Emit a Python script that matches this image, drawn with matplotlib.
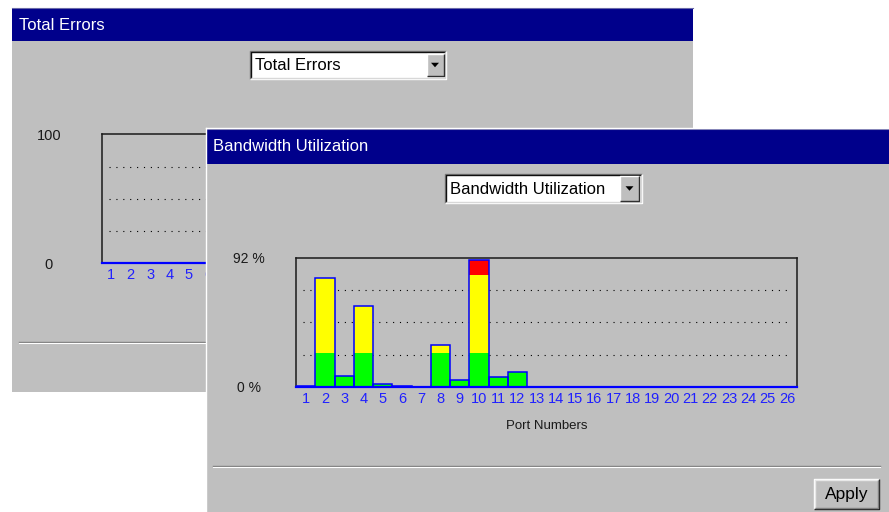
"""Recreate the two stacked port-statistics windows (Total Errors / Bandwidth Utilization)."""

import numpy as np
import matplotlib
matplotlib.use("Agg")
import matplotlib.pyplot as plt
from matplotlib.patches import Rectangle, Polygon

plt.rcParams['font.family'] = ['Liberation Sans', 'DejaVu Sans']

W, H = 889, 512

GRAY = '#bfbfbf'
NAVY = '#00008b'
BLUE = '#0000ff'
TICK_BLUE = '#2020ff'
GREEN = '#00ff00'
YELLOW = '#ffff00'
RED = '#ff0000'

# data
ports = list(range(1, 27))
port_labels = [str(p) for p in ports]
total_errors = [0, 0, 0, 0, 0, 0, 0, 0, 0, 0, 0, 0, 0,
                0, 0, 0, 0, 0, 0, 0, 0, 0, 0, 0, 0, 0]
bandwidth = [0.7, 77.5, 7.8, 57.3, 2.1, 0.7, 0.0, 29.7, 5.0, 90.1, 6.9, 10.5, 0.0,
             0.0, 0.0, 0.0, 0.0, 0.0, 0.0, 0.0, 0.0, 0.0, 0.0, 0.0, 0.0, 0.0]
errors_max = 100
bandwidth_max = 92
green_limit = 24.5
yellow_limit = 80.0


def to_fig(x0, y0, x1, y1):
    """Convert a pixel box (top-left origin) to figure-fraction axes rect."""
    return [x0 / W, 1 - y1 / H, (x1 - x0) / W, (y1 - y0) / H]


def bevel(ax, x0, y0, x1, y1, light, dark, lw=1.0):
    ax.plot([x0, x0, x1], [y1, y0, y0], color=light, lw=lw, solid_capstyle='butt')
    ax.plot([x0, x1, x1], [y1, y1, y0], color=dark, lw=lw, solid_capstyle='butt')


def draw_window(ax, x0, y0, x1, y1, title, title_h):
    ax.add_patch(Rectangle((x0, y0), x1 - x0, y1 - y0, fc=GRAY, ec='none'))
    ax.add_patch(Rectangle((x0, y0), x1 - x0, title_h, fc=NAVY, ec='none'))
    ax.plot([x0, x1], [y0 + 0.5, y0 + 0.5], color='#6a6aa8', lw=0.8)
    ax.text(x0 + 7, y0 + title_h / 2 + 1, title, color='white', fontsize=12, va='center')


def draw_dropdown(ax, x0, y0, x1, y1, text, btn_w):
    ax.add_patch(Rectangle((x0, y0), x1 - x0, y1 - y0, fc='white', ec='none'))
    bevel(ax, x0, y0, x1, y1, '#7a7a7a', 'white', lw=1.0)
    bevel(ax, x0 + 1, y0 + 1, x1 - 1, y1 - 1, '#101010', '#d8d8d8', lw=1.0)
    bx0, bx1 = x1 - btn_w - 2.5, x1 - 2.5
    by0, by1 = y0 + 2.5, y1 - 2.5
    ax.add_patch(Rectangle((bx0, by0), bx1 - bx0, by1 - by0, fc=GRAY, ec='none'))
    bevel(ax, bx0, by0, bx1, by1, 'white', '#303030', lw=1.0)
    cx, cy = (bx0 + bx1) / 2, (by0 + by1) / 2
    ax.add_patch(Polygon([(cx - 4, cy - 2), (cx + 4, cy - 2), (cx, cy + 2.5)],
                         closed=True, fc='black', ec='none'))
    ax.text(x0 + 5, (y0 + y1) / 2 + 1, text, fontsize=12, va='center', color='black')


def groove(ax, x0, x1, y):
    ax.plot([x0, x1], [y, y], color='#808080', lw=1.0)
    ax.plot([x0, x1], [y + 1, y + 1], color='white', lw=0.8)


def style_chart(ax, ymax, ylabels):
    ax.set_facecolor('none')
    ax.set_xlim(0.5, len(ports) + 0.5)
    ax.set_ylim(0, ymax)
    for side in ('top', 'left', 'right'):
        ax.spines[side].set_color('#1a1a1a')
        ax.spines[side].set_linewidth(1.1)
    ax.spines['bottom'].set_color(BLUE)
    ax.spines['bottom'].set_linewidth(1.6)
    ax.set_xticks(ports, port_labels)
    ax.tick_params(axis='x', length=0, pad=3.5, labelsize=10.5, labelcolor=TICK_BLUE)
    ax.set_yticks([0, ymax], ylabels)
    ax.tick_params(axis='y', length=0, labelsize=10, labelcolor='#1a1a1a')
    for lab in ax.get_yticklabels():
        lab.set_horizontalalignment('center')
    grid_y = [ymax * k / 4 for k in (1, 2, 3)]
    ax.hlines(grid_y, 0.86, len(ports) + 0.14, colors='black', lw=0.8,
              linestyles=(0, (1, 5.2)), zorder=1)


fig = plt.figure(figsize=(W / 100, H / 100), dpi=100, facecolor='white')

# back window
ax_back = fig.add_axes([0, 0, 1, 1], zorder=0)
ax_back.set_xlim(0, W)
ax_back.set_ylim(H, 0)
ax_back.axis('off')
draw_window(ax_back, 12, 7.5, 693, 392, 'Total Errors', 33)
draw_dropdown(ax_back, 250, 51, 446, 78.5, 'Total Errors', 17)
groove(ax_back, 19, 686, 341.5)

ax_err = fig.add_axes(to_fig(101.7, 134.3, 606, 263.3), zorder=1)
style_chart(ax_err, errors_max, ['0', '100'])
ax_err.tick_params(axis='y', pad=38, labelsize=10.5)
ax_err.bar(ports, total_errors, width=1.0, fill=False, edgecolor=BLUE, lw=1.1, zorder=3)

# front window
ax_front = fig.add_axes([0, 0, 1, 1], zorder=2)
ax_front.set_facecolor('none')
ax_front.set_xlim(0, W)
ax_front.set_ylim(H, 0)
ax_front.axis('off')
draw_window(ax_front, 206, 128, W, H, 'Bandwidth Utilization', 35.5)
ax_front.plot([206, 206], [128, H], color='white', lw=1.0)
ax_front.plot([206, W], [128, 128], color='white', lw=1.0)
draw_dropdown(ax_front, 445, 173.5, 641.5, 203, 'Bandwidth Utilization', 19)
groove(ax_front, 213, 880, 465.5)
ax_front.add_patch(Rectangle((814, 479), 65, 30, fc=GRAY, ec='none'))
bevel(ax_front, 814, 479, 879, 509, 'white', '#202020', lw=1.0)
bevel(ax_front, 815, 480, 878, 508, '#e8e8e8', '#808080', lw=1.0)
ax_front.text(846.5, 494.5, 'Apply', fontsize=12.5, ha='center', va='center', color='black')

ax_bw = fig.add_axes(to_fig(296, 257.7, 796.5, 387), zorder=3)
style_chart(ax_bw, bandwidth_max, ['0 %', '92 %'])
ax_bw.tick_params(axis='y', pad=34)
ax_bw.set_xlabel('Port Numbers', fontsize=9.5, color='#1a1a1a', labelpad=10.5)

bw = np.array(bandwidth)
green = np.minimum(bw, green_limit)
yellow = np.clip(bw - green_limit, 0, yellow_limit - green_limit)
red = np.clip(bw - yellow_limit, 0, None)
ax_bw.bar(ports, green, width=1.0, color=GREEN, zorder=2)
ax_bw.bar(ports, yellow, bottom=green, width=1.0, color=YELLOW, zorder=2)
ax_bw.bar(ports, red, bottom=green + yellow, width=1.0, color=RED, zorder=2)
ax_bw.bar(ports, bw, width=1.0, fill=False, edgecolor=BLUE, lw=1.1, zorder=3)

fig.savefig('out.png', dpi=100, facecolor='white')
